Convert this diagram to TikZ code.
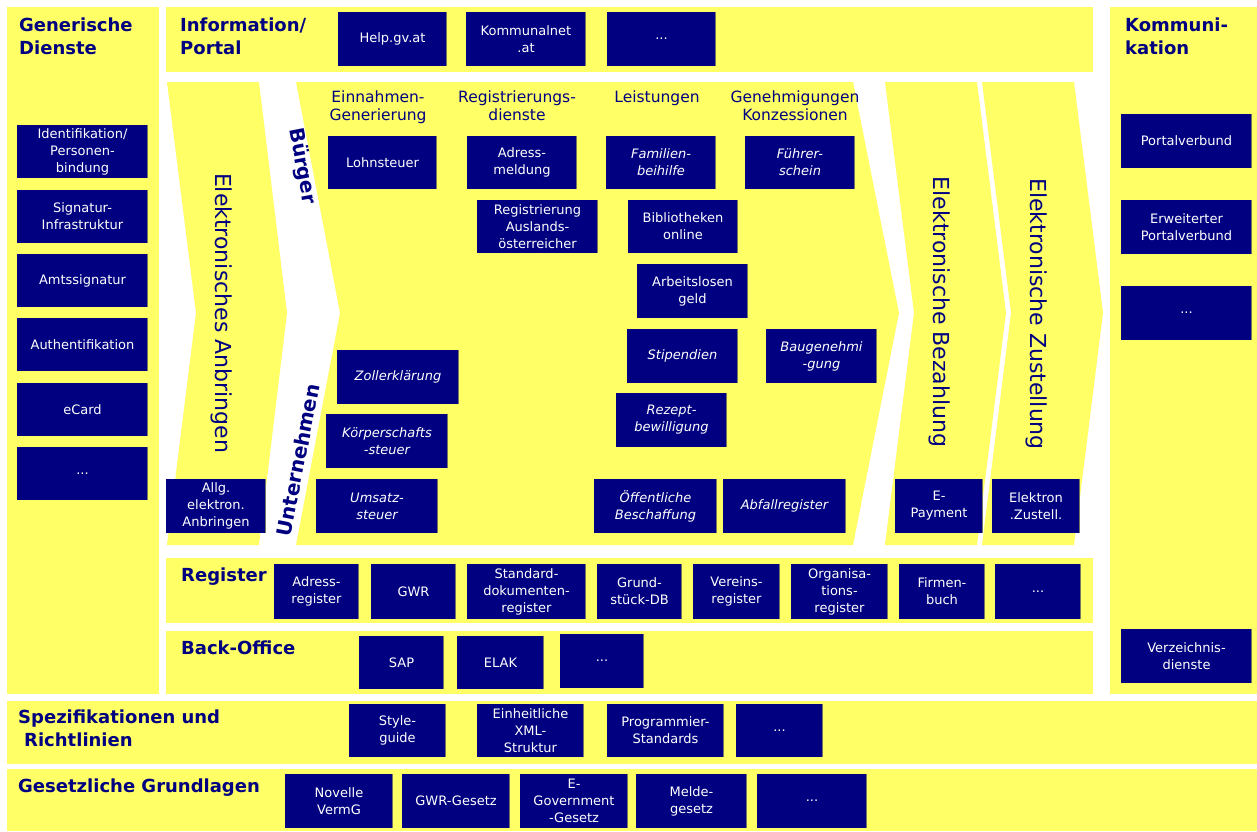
\documentclass[tikz,border=0pt]{standalone}
\usepackage{fontspec}
\setmainfont{DejaVu Sans}
\definecolor{ylw}{RGB}{255,255,102}
\definecolor{nvy}{RGB}{0,0,128}
\definecolor{shd}{RGB}{118,118,100}
\tikzset{
  nbox/.style={fill=nvy, draw=none, text=white, align=center, inner sep=0pt,
    font=\fontsize{13}{17}\selectfont},
  itbox/.style={font=\fontsize{13}{17}\selectfont\itshape},
  ttl/.style={text=nvy, font=\fontsize{18}{23}\selectfont\bfseries, align=left, inner sep=0pt, anchor=north west},
  hdr/.style={text=nvy, font=\fontsize{15.5}{18}\selectfont, align=center, inner sep=0pt, anchor=north},
  vert/.style={text=nvy, font=\fontsize{22}{25}\selectfont, inner sep=0pt, rotate=-90},
  slant/.style={text=nvy, font=\fontsize{20}{24}\selectfont\bfseries, inner sep=0pt},
  shadeline/.style={draw=shd, line width=1.6pt},
  band/.style={fill=ylw, draw=none}
}
\newcommand\bx[7][]{%
  \pgfmathsetmacro\bxw{#5-#3}\pgfmathsetmacro\bxh{#6-#4}%
  \pgfmathsetmacro\bxcx{(#3+#5)/2}\pgfmathsetmacro\bxcy{(#4+#6)/2}%
  \node[nbox,minimum width=\bxw pt,minimum height=\bxh pt,#1] (#2) at (\bxcx,\bxcy) {#7};
  \draw[shadeline] ([xshift=-0.8pt]#2.north east) -- ([xshift=-0.8pt]#2.south east);
}
\begin{document}
\begin{tikzpicture}[x=1pt,y=-1pt]
\useasboundingbox[fill=white] (0,0) rectangle (1257,831);
% bands
\fill[band] (7,7) rectangle (159,694);
\fill[band] (166,7) rectangle (1093,72);
\fill[band] (1110,7) rectangle (1257,694);
\fill[band] (166,558) rectangle (1093,623);
\fill[band] (166,631) rectangle (1093,694);
\fill[band] (7,701) rectangle (1257,764);
\fill[band] (7,769) rectangle (1257,831);
% chevrons
\fill[band] (167,82) -- (259,82) -- (287,313) -- (259,545) -- (167,545) -- (196,313) -- cycle;
\fill[band] (296,82) -- (853,82) -- (899,313) -- (853,545) -- (296,545) -- (340,313) -- cycle;
\fill[band] (885,82) -- (977,82) -- (1006,313) -- (977,545) -- (885,545) -- (914,313) -- cycle;
\fill[band] (982,82) -- (1074,82) -- (1103,313) -- (1074,545) -- (982,545) -- (1011,313) -- cycle;
% titles
\node[ttl] (tGD) at (19,18) {Generische\\Dienste};
\node[ttl] (tIP) at (180,18) {Information/\\Portal};
\node[ttl] (tKO) at (1125,18) {Kommuni-\\kation};
\node[ttl] (tRE) at (181,568) {Register};
\node[ttl] (tBO) at (181,641) {Back-Office};
\node[ttl] (tSP) at (18,710) {Spezifikationen und\\\hspace{6pt}Richtlinien};
\node[ttl] (tGE) at (18,779) {Gesetzliche Grundlagen};
% column headers
\node[hdr] (h1) at (378,91) {Einnahmen-\\Generierung};
\node[hdr] (h2) at (517,91) {Registrierungs-\\dienste};
\node[hdr] (h3) at (657,91) {Leistungen};
\node[hdr] (h4) at (795,91) {Genehmigungen\\Konzessionen};
% vertical labels
\node[vert] (vA) at (222,313) {Elektronisches Anbringen};
\node[vert] (vB) at (940,312) {Elektronische Bezahlung};
\node[vert] (vZ) at (1037,314) {Elektronische Zustellung};
\node[slant, rotate=-79] (lB) at (302,166) {Bürger};
\node[slant, rotate=79] (lU) at (298,460) {Unternehmen};
% generic services
\bx{gd1}{17}{125}{148}{178}{Identifikation/\\Personen-\\bindung}
\bx{gd2}{17}{190}{148}{243}{Signatur-\\Infrastruktur}
\bx{gd3}{17}{254}{148}{307}{Amtssignatur}
\bx{gd4}{17}{318}{148}{371}{Authentifikation}
\bx{gd5}{17}{383}{148}{436}{eCard}
\bx{gd6}{17}{447}{148}{500}{...}
% information / portal
\bx{ip1}{338}{12}{447}{66}{Help.gv.at}
\bx{ip2}{466}{12}{586}{66}{Kommunalnet\\.at}
\bx{ip3}{607}{12}{716}{66}{...}
% communication
\bx{k1}{1121}{114}{1252}{168}{Portalverbund}
\bx{k2}{1121}{200}{1252}{254}{Erweiterter\\Portalverbund}
\bx{k3}{1121}{286}{1252}{340}{...}
\bx{k4}{1121}{629}{1252}{683}{Verzeichnis-\\dienste}
% main area
\bx{m1}{328}{136}{437}{189}{Lohnsteuer}
\bx{m2}{467}{136}{577}{189}{Adress-\\meldung}
\bx[itbox]{m3}{606}{136}{716}{189}{Familien-\\beihilfe}
\bx[itbox]{m4}{745}{136}{855}{189}{Führer-\\schein}
\bx{m5}{477}{200}{598}{253}{Registrierung\\Auslands-\\österreicher}
\bx{m6}{628}{200}{738}{253}{Bibliotheken\\online}
\bx{m7}{637}{264}{748}{318}{Arbeitslosen\\geld}
\bx[itbox]{m8}{627}{329}{738}{383}{Stipendien}
\bx[itbox]{m9}{766}{329}{877}{383}{Baugenehmi\\-gung}
\bx[itbox]{m10}{616}{393}{727}{447}{Rezept-\\bewilligung}
\bx[itbox]{m11}{594}{479}{717}{533}{Öffentliche\\Beschaffung}
\bx[itbox]{m12}{723}{479}{846}{533}{Abfallregister}
\bx[itbox]{m13}{337}{350}{459}{404}{Zollerklärung}
\bx[itbox]{m14}{326}{414}{448}{468}{Körperschafts\\-steuer}
\bx[itbox]{m15}{316}{479}{438}{533}{Umsatz-\\steuer}
\bx{m16}{166}{479}{266}{533}{Allg.\\elektron.\\Anbringen}
\bx{m17}{895}{479}{983}{533}{E-\\Payment}
\bx{m18}{992}{479}{1080}{533}{Elektron\\.Zustell.}
% register
\bx{r1}{274}{564}{359}{619}{Adress-\\register}
\bx{r2}{371}{564}{456}{619}{GWR}
\bx{r3}{467}{564}{586}{619}{Standard-\\dokumenten-\\register}
\bx{r4}{597}{564}{682}{619}{Grund-\\stück-DB}
\bx{r5}{693}{564}{780}{619}{Vereins-\\register}
\bx{r6}{791}{564}{888}{619}{Organisa-\\tions-\\register}
\bx{r7}{899}{564}{985}{619}{Firmen-\\buch}
\bx{r8}{995}{564}{1081}{619}{...}
% back office
\bx{b1}{359}{636}{444}{689}{SAP}
\bx{b2}{457}{636}{544}{689}{ELAK}
\bx{b3}{560}{634}{644}{688}{...}
% specifications
\bx{s1}{349}{704}{446}{757}{Style-\\guide}
\bx{s2}{477}{704}{584}{757}{Einheitliche\\XML-\\Struktur}
\bx{s3}{607}{704}{724}{757}{Programmier-\\Standards}
\bx{s4}{736}{704}{823}{757}{...}
% legal
\bx{g1}{285}{774}{393}{828}{Novelle\\VermG}
\bx{g2}{402}{774}{510}{828}{GWR-Gesetz}
\bx{g3}{520}{774}{628}{828}{E-\\Government\\-Gesetz}
\bx{g4}{636}{774}{747}{828}{Melde-\\gesetz}
\bx{g5}{757}{774}{867}{828}{...}
\end{tikzpicture}
\end{document}
